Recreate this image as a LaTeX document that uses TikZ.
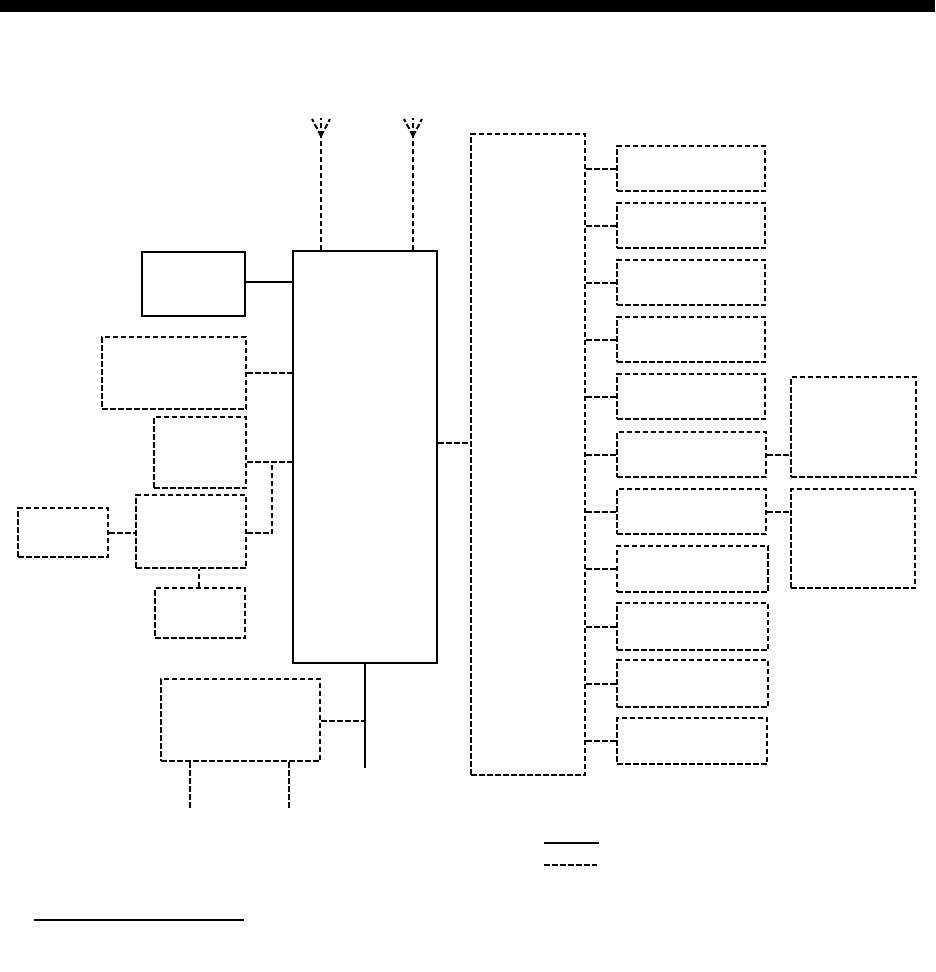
\documentclass[tikz,border=0pt]{standalone}
\usepackage{tikz}
\tikzset{
  solidbox/.style={draw, line width=2pt, inner sep=0pt},
  dashbox/.style={solidbox, dash pattern=on 5.5pt off 2.5pt},
  solidline/.style={line width=2pt},
  dashline/.style={line width=2pt, dash pattern=on 5.5pt off 2.5pt},
}
\begin{document}
\begin{tikzpicture}[x=1pt, y=-1pt]
  \useasboundingbox (0,0) rectangle (935,972);
  % top bar
  \fill[black] (0,0) rectangle (935,12);
  % main unit and bus
  \node[solidbox, minimum width=144pt, minimum height=412pt] (main) at (365,457) {};
  \node[dashbox, minimum width=114pt, minimum height=641pt] (bus) at (528,454.5) {};
  % left side units
  \node[solidbox, minimum width=103pt, minimum height=64pt] (clock) at (193.5,284) {};
  \node[dashbox, minimum width=144pt, minimum height=72pt] (leftA) at (174,373) {};
  \node[dashbox, minimum width=92pt, minimum height=71pt] (leftB) at (200,452.5) {};
  \node[dashbox, minimum width=110pt, minimum height=73pt] (leftC) at (191,531.5) {};
  \node[dashbox, minimum width=90pt, minimum height=49pt] (leftD) at (63,532.5) {};
  \node[dashbox, minimum width=90pt, minimum height=50pt] (leftE) at (200,613) {};
  \node[dashbox, minimum width=159pt, minimum height=82pt] (lower) at (240.5,720) {};
  % units on the bus
  \foreach \i/\yc/\xc/\w/\h in {1/168.5/691/148/45, 2/225.5/691/148/45, 3/282.5/691/148/45,
      4/339.5/691/148/45, 5/396.5/691/148/45, 6/454.5/691.5/149/45, 7/511.5/691.5/149/45,
      8/568.5/692.5/151/46, 9/626.5/692.5/151/47, 10/683.5/692.5/151/47, 11/741/692/150/46} {
    \node[dashbox, minimum width=\w pt, minimum height=\h pt] (unit\i) at (\xc,\yc) {};
    \draw[dashline] (bus.east |- unit\i.west) -- (unit\i.west);
  }
  \node[dashbox, minimum width=125pt, minimum height=100pt] (sideA) at (853.5,427) {};
  \node[dashbox, minimum width=124pt, minimum height=99pt] (sideB) at (853,538.5) {};
  \draw[dashline] (unit6.east) -- (sideA.west |- unit6.east);
  \draw[dashline] (unit7.east) -- (sideB.west |- unit7.east);
  % antennas
  \foreach \n/\x in {1/321, 2/413} {
    \coordinate (ant\n) at (\x,136);
    \draw[dashline] (main.north -| ant\n) -- (ant\n);
    \draw[dashline] (ant\n) -- (\x,118);
    \draw[dashline] (ant\n) -- (\x-9,119);
    \draw[dashline] (ant\n) -- (\x+9,119);
  }
  % connectors on the left
  \draw[solidline] (clock.east |- 0,282) -- (main.west |- 0,282);
  \draw[dashline] (leftA.east) -- (main.west |- leftA.east);
  \coordinate (join) at (272,462);
  \draw[dashline] (leftB.east |- join) -- (main.west |- join);
  \draw[dashline] (leftC.east |- 0,533) -- (join |- 0,533) -- (join);
  \draw[dashline] (leftD.east) -- (leftC.west |- leftD.east);
  \draw[dashline] (leftE.north -| 199,0) -- (leftC.south -| 199,0);
  % main to bus
  \draw[dashline] (main.east |- 0,443) -- (bus.west |- 0,443);
  % lower unit
  \coordinate (mainEnd) at (365,768);
  \coordinate (lowerEndA) at (190,808);
  \coordinate (lowerEndB) at (289,808);
  \draw[solidline] (main.south) -- (mainEnd);
  \draw[dashline] (lower.east |- 0,721) -- (365,721);
  \draw[dashline] (lower.south -| lowerEndA) -- (lowerEndA);
  \draw[dashline] (lower.south -| lowerEndB) -- (lowerEndB);
  % legend
  \draw[solidline] (544,842.5) -- (599,842.5);
  \draw[dashline] (544,865) -- (597,865);
  % footnote rule
  \draw[solidline] (34,919.5) -- (244,919.5);
\end{tikzpicture}
\end{document}
